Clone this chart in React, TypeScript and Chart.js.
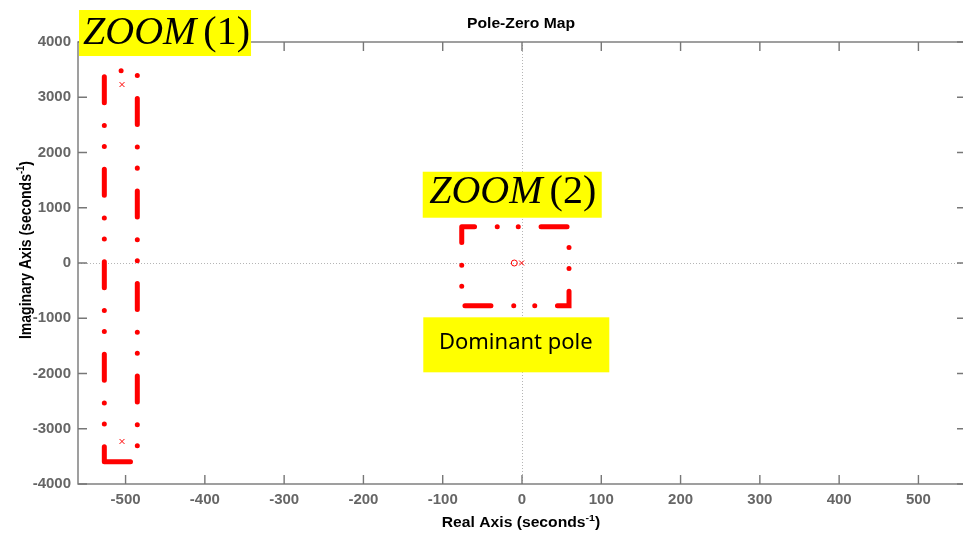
import React, { useEffect, useRef } from "react";
import { Chart, registerables } from "chart.js";

Chart.register(...registerables);

// ---------- data ----------
const xTicks = [-500, -400, -300, -200, -100, 0, 100, 200, 300, 400, 500];
const yTicks = [-4000, -3000, -2000, -1000, 0, 1000, 2000, 3000, 4000];
const xRange = [-560, 560];
const yRange = [-4000, 4000];

// poles (x) and zeros (o)
const poleRe = [-504.5, -504.5, -0.5];
const poleIm = [3230, -3230, 0];
const zeroRe = [-9.7];
const zeroIm = [0];

// highlighted regions (dash-dot boxes), corners in data units
const zoom1Re = [-526.8, -526.8, -485.2, -485.2, -526.8];
const zoom1Im = [-3596, 3479, 3479, -3596, -3596];
const zoom2Re = [-76.0, 59.3, 59.3, -76.0, -76.0];
const zoom2Im = [657, 657, -773, -773, 657];

// ---------- styling / layout ----------
const W = 975;
const H = 533;
const SANS = '"Liberation Sans", Arial, Helvetica, sans-serif';
const SERIF = '"Liberation Serif", "Times New Roman", serif';
const AXIS_COLOR = "#777777";
const TICK_LABEL_COLOR = "#666666";
const DASH_DOT = [26, 22.7, 0.01, 21, 0.01, 22.8];

const annotations = [
  { kind: "zoom", label: "1", x: -558.7, y: 4579, w: 172, h: 46, tx: 4, ty: 33.5 },
  { kind: "zoom", label: "2", x: -125.2, y: 1652, w: 179, h: 46, tx: 6.5, ty: 31.7 },
  { kind: "text", label: "Dominant pole", x: -124.5, y: -983, w: 186, h: 55, tx: 0, ty: 32 },
];

type Part = { t: string; sup?: boolean };

function drawRich(
  ctx: CanvasRenderingContext2D,
  parts: Part[],
  cx: number,
  cy: number,
  rotated: boolean,
  sx: number,
  size: number,
  color: string
) {
  ctx.save();
  ctx.translate(cx, cy);
  ctx.scale(sx, 1);
  if (rotated) ctx.rotate(-Math.PI / 2);
  ctx.fillStyle = color;
  ctx.textBaseline = "alphabetic";
  ctx.textAlign = "left";
  const mainFont = `bold ${size}px ${SANS}`;
  const supFont = `bold ${size * 0.68}px ${SANS}`;
  const widths = parts.map((p) => {
    ctx.font = p.sup ? supFont : mainFont;
    return ctx.measureText(p.t).width;
  });
  const total = widths.reduce((a, b) => a + b, 0);
  let xx = -total / 2;
  parts.forEach((p, i) => {
    ctx.font = p.sup ? supFont : mainFont;
    ctx.fillText(p.t, xx, p.sup ? -size * 0.46 : 0);
    xx += widths[i];
  });
  ctx.restore();
}

const framePlugin = {
  id: "pzframe",
  beforeDatasetsDraw(chart: any) {
    const { ctx, chartArea: a, scales } = chart;
    const x0 = Math.round(scales.x.getPixelForValue(0)) + 0.5;
    const y0 = Math.round(scales.y.getPixelForValue(0)) + 0.5;
    ctx.save();
    ctx.strokeStyle = "#b5b5b5";
    ctx.lineWidth = 1;
    ctx.setLineDash([1, 2]);
    ctx.beginPath();
    ctx.moveTo(x0, a.top);
    ctx.lineTo(x0, a.bottom);
    ctx.moveTo(a.left, y0);
    ctx.lineTo(a.right, y0);
    ctx.stroke();
    ctx.restore();
  },
  afterDatasetsDraw(chart: any) {
    const { ctx, chartArea: a, scales } = chart;
    ctx.save();
    ctx.strokeStyle = AXIS_COLOR;
    ctx.lineWidth = 1.4;
    ctx.setLineDash([]);
    ctx.strokeRect(a.left, a.top, a.right - a.left, a.bottom - a.top);
    const tl = 9;
    ctx.beginPath();
    scales.x.ticks.forEach((t: any) => {
      const px = scales.x.getPixelForValue(t.value);
      ctx.moveTo(px, a.bottom);
      ctx.lineTo(px, a.bottom - tl);
      ctx.moveTo(px, a.top);
      ctx.lineTo(px, a.top + tl);
    });
    scales.y.ticks.forEach((t: any) => {
      const py = scales.y.getPixelForValue(t.value);
      ctx.moveTo(a.left, py);
      ctx.lineTo(a.left + tl, py);
      ctx.moveTo(a.right, py);
      ctx.lineTo(a.right - tl, py);
    });
    ctx.stroke();
    ctx.restore();
  },
  afterDraw(chart: any) {
    const { ctx, chartArea: a, scales } = chart;
    const cx = (a.left + a.right) / 2 - 1;
    // title
    drawRich(ctx, [{ t: "Pole-Zero Map" }], cx, 28, false, 1.12, 14, "#000000");
    // x label
    drawRich(
      ctx,
      [{ t: "Real Axis (seconds" }, { t: "-1", sup: true }, { t: ")" }],
      cx,
      527.3,
      false,
      1.12,
      14,
      "#000000"
    );
    // y label
    drawRich(
      ctx,
      [{ t: "Imaginary Axis (seconds" }, { t: "-1", sup: true }, { t: ")" }],
      31,
      250,
      true,
      1.12,
      14,
      "#000000"
    );
    // annotation boxes
    annotations.forEach((n) => {
      const left = scales.x.getPixelForValue(n.x);
      const top = scales.y.getPixelForValue(n.y);
      ctx.save();
      ctx.fillStyle = "#ffff00";
      ctx.fillRect(left, top, n.w, n.h);
      ctx.fillStyle = "#000000";
      ctx.textBaseline = "alphabetic";
      if (n.kind === "zoom") {
        ctx.textAlign = "left";
        ctx.font = `italic 40px ${SERIF}`;
        const zw = ctx.measureText("ZOOM").width;
        ctx.fillText("ZOOM", left + n.tx, top + n.ty);
        ctx.font = `40px ${SERIF}`;
        ctx.fillText("(" + n.label + ")", left + n.tx + zw + 7, top + n.ty);
      } else {
        ctx.textAlign = "center";
        ctx.font = `22px "Noto Sans", "Open Sans", sans-serif`;
        ctx.fillText(n.label, left + n.w / 2 - 0.5, top + n.ty);
      }
      ctx.restore();
    });
  },
};

function toPoints(xs: number[], ys: number[]) {
  return xs.map((x, i) => ({ x, y: ys[i] }));
}

export default function App() {
  const ref = useRef<HTMLCanvasElement>(null);

  useEffect(() => {
    if (!ref.current) return;
    const boxStyle = {
      showLine: true,
      borderColor: "#ff0000",
      borderWidth: 5,
      borderDash: DASH_DOT,
      borderCapStyle: "round" as const,
      borderJoinStyle: "miter" as const,
      pointRadius: 0,
      pointHoverRadius: 0,
      fill: false,
      tension: 0,
    };
    const chart = new Chart(ref.current, {
      type: "scatter",
      data: {
        datasets: [
          { label: "zoom1", data: toPoints(zoom1Re, zoom1Im), ...boxStyle, borderDashOffset: 11.1 },
          { label: "zoom2", data: toPoints(zoom2Re, zoom2Im), ...boxStyle, borderDashOffset: 13.2 },
          {
            label: "poles",
            data: toPoints(poleRe, poleIm),
            pointStyle: "crossRot",
            pointRadius: 3.5,
            pointBorderWidth: 1,
            borderColor: "#ff0000",
            backgroundColor: "#ff0000",
            showLine: false,
          },
          {
            label: "zeros",
            data: toPoints(zeroRe, zeroIm),
            pointStyle: "circle",
            pointRadius: 3,
            pointBorderWidth: 1,
            borderColor: "#ff0000",
            backgroundColor: "rgba(0,0,0,0)",
            showLine: false,
          },
        ],
      },
      options: {
        responsive: false,
        animation: false,
        events: [],
        layout: { padding: { left: 0, right: 9, top: 42, bottom: 0 } },
        plugins: {
          legend: { display: false },
          tooltip: { enabled: false },
          title: { display: false },
        },
        scales: {
          x: {
            type: "linear",
            position: "bottom",
            min: xRange[0],
            max: xRange[1],
            grid: { display: false, drawTicks: false },
            border: { display: false },
            ticks: {
              padding: 7,
              color: TICK_LABEL_COLOR,
              font: { family: SANS, size: 15, weight: "bold" },
              maxRotation: 0,
              autoSkip: false,
              callback: (v: any) => String(v),
            },
            afterBuildTicks: (s: any) => {
              s.ticks = xTicks.map((v) => ({ value: v }));
            },
            afterFit: (s: any) => {
              s.height = 49;
            },
          },
          y: {
            type: "linear",
            position: "left",
            min: yRange[0],
            max: yRange[1],
            grid: { display: false, drawTicks: false },
            border: { display: false },
            ticks: {
              padding: 7,
              color: TICK_LABEL_COLOR,
              font: { family: SANS, size: 15, weight: "bold" },
              autoSkip: false,
              callback: (v: any) => String(v),
            },
            afterBuildTicks: (s: any) => {
              s.ticks = yTicks.map((v) => ({ value: v }));
            },
            afterFit: (s: any) => {
              s.width = 78;
            },
          },
        },
      },
      plugins: [framePlugin],
    } as any);
    return () => chart.destroy();
  }, []);

  return (
    <div
      style={{
        position: "fixed",
        left: 0,
        top: 0,
        width: 963,
        height: 533,
        overflow: "hidden",
        background: "#ffffff",
      }}
    >
      <canvas ref={ref} width={W} height={H} style={{ display: "block", width: W, height: H }} />
    </div>
  );
}
